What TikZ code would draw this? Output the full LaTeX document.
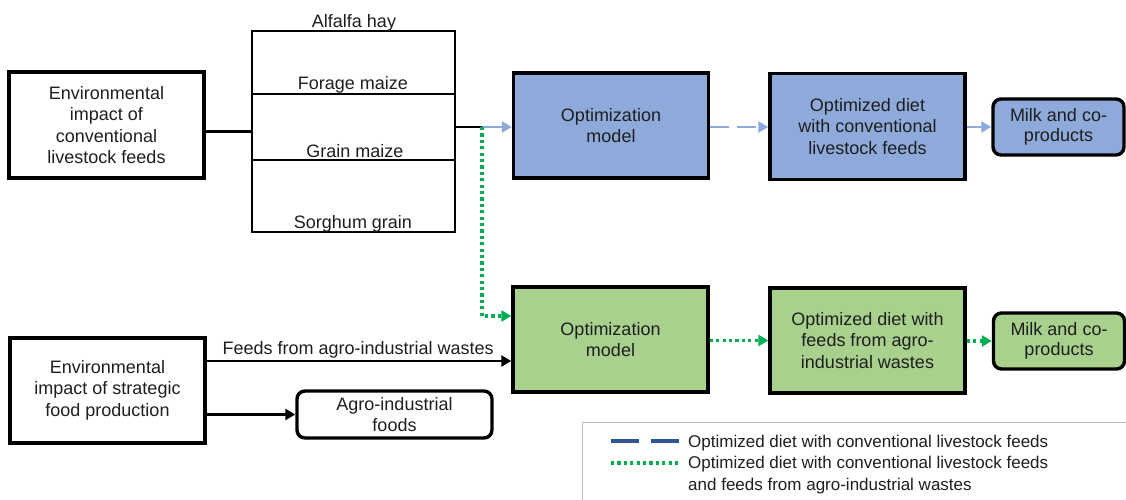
\documentclass[tikz,border=0pt]{standalone}
\usepackage{fontspec}
\setmainfont{Liberation Sans}
\usetikzlibrary{arrows.meta,calc}
\definecolor{bluefill}{HTML}{8EAADB}
\definecolor{greenfill}{HTML}{A9D18E}
\definecolor{arrowblue}{HTML}{8EAADB}
\definecolor{dotgreen}{HTML}{00B050}
\definecolor{legblue}{HTML}{2F5597}
\definecolor{txt}{HTML}{1E1E1E}
\begin{document}
\begin{tikzpicture}[x=1pt,y=-1pt,
  font=\fontsize{18}{21.5}\selectfont, text=txt,
  box/.style={draw=black, line width=3.4pt, align=center, inner sep=0pt, minimum width=195pt, minimum height=105pt},
  rbox/.style={draw=black, line width=3.4pt, rounded corners=8pt, align=center, inner sep=0pt},
  lbl/.style={inner sep=0pt, align=center},
  tip/.style={-{Triangle[length=10pt,width=11pt]}},
  bluearr/.style={tip, draw=arrowblue, line width=2.5pt},
  greenarr/.style={tip, draw=dotgreen, line width=3.2pt, dash pattern=on 3.2pt off 3.2pt},
  blackarr/.style={tip, draw=black, line width=2.5pt}
]
\useasboundingbox (0,0) rectangle (1126,500);

% left top box
\node[box, minimum height=106pt] (A) at (106.5,125) {Environmental\\impact of\\conventional\\livestock feeds};

% feeds box
\node[draw=black, line width=2.2pt, minimum width=203pt, minimum height=201pt, inner sep=0pt] (feeds) at (353.5,131.5) {};
\coordinate (h1) at (252,94);
\coordinate (h2) at (252,160);
\draw[line width=2.2pt] (h1) -- (h1 -| feeds.east);
\draw[line width=2.2pt] (h2) -- (h2 -| feeds.east);
\node[lbl] (alf) at (354,23) {Alfalfa hay};
\node[lbl] (for) at (353,85) {Forage maize};
\node[lbl] (gra) at (355,151) {Grain maize};
\node[lbl] (sor) at (353,224) {Sorghum grain};

\coordinate (j) at (482,127);
\draw[line width=2.5pt] (A.east |- feeds.west) -- (feeds.west);
\draw[line width=2.5pt] (feeds.east |- j) -- (j);

% blue row
\node[box, fill=bluefill] (opt1) at (611,125.5) {Optimization\\model};
\node[box, fill=bluefill, minimum height=106pt] (diet1) at (867.5,126.5) {Optimized diet\\with conventional\\livestock feeds};
\node[rbox, fill=bluefill, minimum width=131pt, minimum height=56pt] (milk1) at (1058.5,127) {\raisebox{-2pt}{\begin{tabular}{@{}c@{}}Milk and co-\\[-1pt]products\end{tabular}}};

\draw[bluearr] (j) -- (j -| opt1.west);
\draw[bluearr, dash pattern=on 19pt off 8pt] (opt1.east |- j) -- (j -| diet1.west);
\draw[bluearr] (diet1.east |- milk1.west) -- (milk1.west);

% green row
\node[box, fill=greenfill] (opt2) at (610.5,339.5) {Optimization\\model};
\node[box, fill=greenfill] (diet2) at (867.5,340.5) {Optimized diet with\\feeds from agro-\\industrial wastes};
\node[rbox, fill=greenfill, minimum width=131pt, minimum height=56pt] (milk2) at (1059,341) {\raisebox{-2pt}{\begin{tabular}{@{}c@{}}Milk and co-\\[-1pt]products\end{tabular}}};

\coordinate (g1) at (482,316);
\draw[greenarr] (j) -- (g1) -- (g1 -| opt2.west);
\draw[greenarr] (opt2.east |- diet2.west) -- (diet2.west);
\draw[greenarr] (diet2.east |- milk2.west) -- (milk2.west);

% lower left
\node[box] (B) at (107.5,390.5) {\raisebox{-3pt}{\begin{tabular}{@{}c@{}}Environmental\\impact of strategic\\food production\end{tabular}}};
\node[rbox, minimum width=195pt, minimum height=47pt] (agro) at (394.5,414.5) {Agro-industrial\\foods};
\coordinate (f1) at (205,361);
\draw[blackarr] (f1) -- (f1 -| opt2.west) node[lbl, pos=0.5, above=2pt] (flbl) {Feeds from agro-industrial wastes};
\draw[blackarr] (B.east |- agro.west) -- (agro.west);

% legend
\node[draw=black!25, line width=1.2pt, minimum width=560pt, minimum height=96pt, inner sep=0pt, anchor=north west] (leg) at (582,422) {};
\coordinate (l1a) at (611,441);
\coordinate (l1b) at (679,441);
\coordinate (l2a) at (611,463);
\coordinate (l2b) at (679,463);
\draw[legblue, line width=3.2pt, dash pattern=on 28pt off 12pt] (l1a) -- (l1b);
\draw[dotgreen, line width=3.2pt, dash pattern=on 3.2pt off 3.2pt] (l2a) -- (l2b);
\begin{scope}[font=\fontsize{17}{22}\selectfont]
\node[lbl, anchor=west] (lt1) at (688,443) {Optimized diet with conventional livestock feeds};
\node[lbl, anchor=north west, align=left] (lt2) at (688,456) {Optimized diet with conventional livestock feeds\\and feeds from agro-industrial wastes};
\end{scope}
\end{tikzpicture}
\end{document}
